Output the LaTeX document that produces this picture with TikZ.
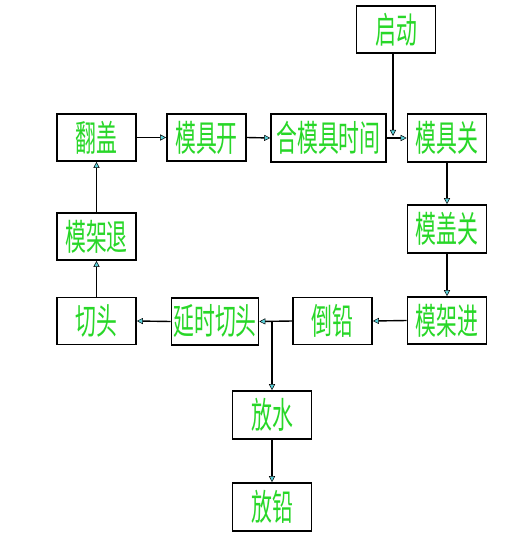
\documentclass[tikz,border=0pt]{standalone}
\usepackage{fontspec}
\newfontfamily\cjk{Noto Sans CJK SC}
\usepackage{xcolor}
\usepackage{tikz}
\usetikzlibrary{positioning}
\usetikzlibrary{arrows.meta}
\usetikzlibrary{calc}

\definecolor{txtgreen}{RGB}{40,215,40}
\definecolor{tipcyan}{RGB}{90,210,220}

\newcommand{\steptext}[1]{\scalebox{0.58}[1]{#1}}

\tikzset{
  stepbox/.style={draw=black, line width=1.6pt, fill=white, inner sep=0pt,
    minimum width=79pt, minimum height=47pt,
    font=\cjk\fontsize{36}{36}\selectfont, text=txtgreen},
  flow/.style={draw=black, line width=1.4pt,
    -{Triangle[length=6pt,width=6pt,fill=tipcyan,line width=0.5pt]}}
}

\begin{document}
\begin{tikzpicture}[x=1pt,y=-1pt]
\useasboundingbox (0,0) rectangle (518,540);

\node[stepbox] (qidong) at (396,29.5) {\steptext{启动}};

\node[stepbox] (fangai) at (96.5,137.5) {\steptext{翻盖}};
\node[stepbox] (mojukai) at (206.5,137.5) {\steptext{模具开}};
\node[stepbox, minimum width=115pt, minimum height=48pt] (hemo) at (328.5,138) {\steptext{合模具时间}};
\node[stepbox, minimum height=48pt] (mojuguan) at (447,138) {\steptext{模具关}};

\node[stepbox, minimum height=48pt] (mogaiguan) at (447,229) {\steptext{模盖关}};
\node[stepbox] (mojiajin) at (447,320.5) {\steptext{模架进}};

\node[stepbox] (daoqian) at (332.5,321) {\steptext{倒铅}};
\node[stepbox, minimum width=87pt] (yanshi) at (215,321.5) {\steptext{延时切头}};
\node[stepbox] (qietou) at (96.5,321) {\steptext{切头}};
\node[stepbox] (mojiatui) at (96.5,236.5) {\steptext{模架退}};

\node[stepbox, minimum height=48pt] (fangshui) at (272,415) {\steptext{放水}};
\node[stepbox, minimum height=48pt] (fangqian) at (272,507) {\steptext{放铅}};

\coordinate (start) at (393,136);
\coordinate (split) at (272,321.5);

% top row
\draw[flow] (fangai.east) -- (mojukai.west);
\draw[flow] (mojukai.east) -- (hemo.west);
\draw[flow] (hemo.east) -- (mojuguan.west);
\draw[flow] (qidong.south -| start) -- (start);

% right side and bottom row
\draw[flow] (mojuguan.south) -- (mogaiguan.north);
\draw[flow] (mogaiguan.south) -- (mojiajin.north);
\draw[flow] (mojiajin.west) -- (daoqian.east);
\draw[flow] (daoqian.west) -- (yanshi.east);
\draw[flow] (yanshi.west) -- (qietou.east);

% left side
\draw[flow] (qietou.north) -- (mojiatui.south);
\draw[flow] (mojiatui.north) -- (fangai.south);

% branch down
\draw[flow] (split) -- (fangshui.north);
\draw[flow] (fangshui.south) -- (fangqian.north);
\end{tikzpicture}
\end{document}
